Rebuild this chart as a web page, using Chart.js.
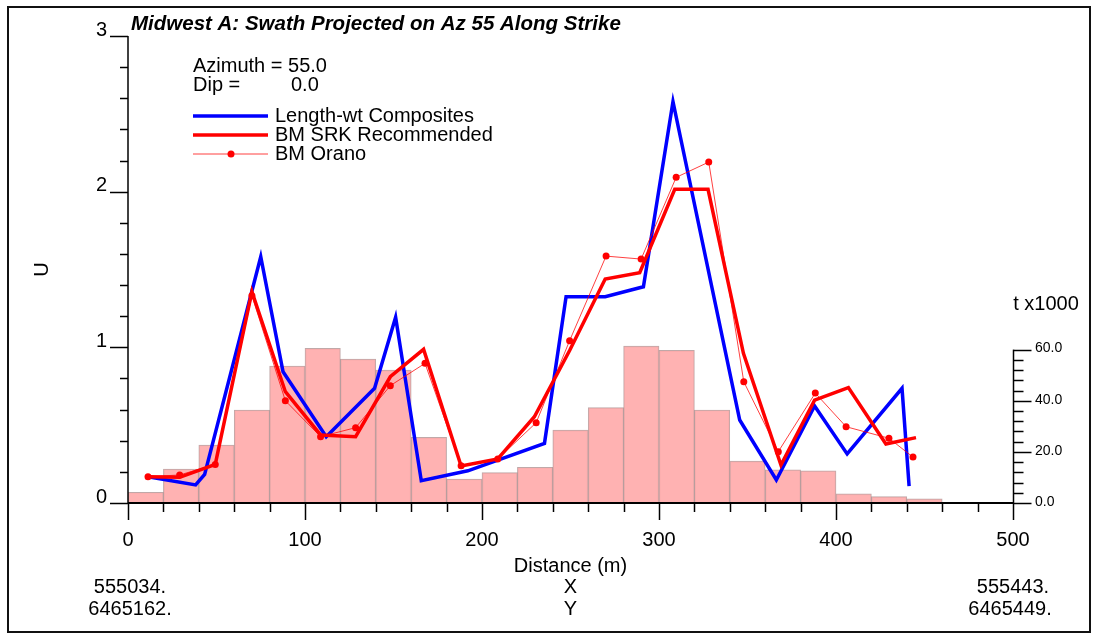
<!DOCTYPE html>
<html><head><meta charset="utf-8">
<script src="https://cdn.jsdelivr.net/npm/chart.js@4.4.1/dist/chart.umd.min.js"></script>
<style>html,body{margin:0;padding:0;background:#fff}#wrap{position:relative;width:1097px;height:639px}</style>
</head><body><div id="wrap"><canvas id="c"></canvas></div>
<script>
// ---- data ----
const titleText = 'Midwest A: Swath Projected on Az 55 Along Strike';
const binCenters = [10,30,50,70,90,110,130,150,170,190,210,230,250,270,290,310,330,350,370,390,410,430,450,470,490];
const tonnage    = [4.2,13.3,22.7,36.4,53.6,60.5,56.3,52.0,25.7,9.4,11.9,14.0,28.5,37.3,61.4,59.7,36.4,16.4,13.0,12.6,3.6,2.5,1.6,0,0];
const compX = [11.3,38.2,43.3,75.0,87.6,112.0,139.3,151.2,165.7,192.0,235.3,247.5,269.6,291.2,307.9,345.6,366.3,387.9,406.3,437.3,441.3];
const compU = [0.169,0.116,0.184,1.582,0.843,0.426,0.737,1.193,0.143,0.207,0.383,1.325,1.325,1.389,2.578,0.533,0.148,0.623,0.315,0.737,0.109];
const srkX = [11.3,29.2,49.3,70.0,88.9,108.8,128.6,148.2,167.0,188.2,208.9,229.6,249.5,269.6,289.1,308.9,327.7,347.7,368.9,387.9,407.0,428.2,445.2];
const srkU = [0.169,0.165,0.248,1.357,0.715,0.437,0.426,0.811,0.987,0.238,0.283,0.554,0.98,1.439,1.479,2.015,2.015,0.961,0.244,0.661,0.741,0.379,0.420];
const oranoX = [11.3,29.2,49.3,70.0,88.9,108.8,128.6,148.2,167.8,188.2,208.9,230.6,249.5,270.1,289.9,309.7,328.1,347.9,367.4,388.3,405.7,429.9,443.5];
const oranoU = [0.169,0.18,0.248,1.332,0.657,0.426,0.484,0.754,0.897,0.24,0.283,0.516,1.043,1.586,1.567,2.092,2.19,0.779,0.33,0.706,0.49,0.416,0.295];
const uTicks = [0,1,2,3];
const distTicks = [0,100,200,300,400,500];
const tTicks = [0,20,40,60];
const legendLabels = ['Length-wt Composites','BM SRK Recommended','BM Orano'];
const startXY = ['555034.','6465162.'];
const endXY = ['555443.','6465449.'];
const axisLetters = ['X','Y'];

const FF = '"Liberation Sans", Arial, Helvetica, sans-serif';
Chart.defaults.font.family = FF;
Chart.defaults.color = '#000';

const pts = (xs, ys) => xs.map((x,i)=>({x:x, y:ys[i]}));

const decor = {
  id:'decor',
  afterDraw(chart){
    const ctx = chart.ctx;
    const xs = chart.scales.x, ys = chart.scales.y, ts = chart.scales.y2;
    const L = xs.left, R = xs.right, B = ys.bottom, T = ys.top;
    ctx.save();
    ctx.strokeStyle = '#000';
    ctx.lineCap = 'butt';
    // left axis
    ctx.lineWidth = 1.5;
    ctx.beginPath(); ctx.moveTo(L, T); ctx.lineTo(L, B); ctx.stroke();
    for (let v = 0; v <= 3.0001; v += 0.2) {
      const y = Math.round(ys.getPixelForValue(v)) + 0.5;
      const major = Math.abs(v - Math.round(v)) < 1e-6;
      ctx.beginPath(); ctx.moveTo(L - (major ? 18 : 8), y); ctx.lineTo(L, y); ctx.stroke();
    }
    // bottom axis
    ctx.lineWidth = 2;
    ctx.beginPath(); ctx.moveTo(L, B); ctx.lineTo(R, B); ctx.stroke();
    ctx.lineWidth = 1.5;
    for (let v = 0; v <= 500; v += 20) {
      const x = Math.round(xs.getPixelForValue(v)) + 0.5;
      const major = v % 100 === 0;
      ctx.beginPath(); ctx.moveTo(x, B); ctx.lineTo(x, B + (major ? 17 : 9)); ctx.stroke();
    }
    // right tonnage axis (0..60)
    const tx = Math.round(R) + 0.5;
    ctx.beginPath(); ctx.moveTo(tx, B); ctx.lineTo(tx, ts.getPixelForValue(60)); ctx.stroke();
    for (let v = 0; v <= 60; v += 4) {
      const y = Math.round(ts.getPixelForValue(v)) + 0.5;
      const major = v % 20 === 0;
      ctx.beginPath(); ctx.moveTo(tx, y); ctx.lineTo(tx + (major ? 18 : 10), y); ctx.stroke();
    }
    // frame
    ctx.lineWidth = 2; ctx.strokeStyle = '#111';
    ctx.strokeRect(8, 7, 1082, 625);
    // texts
    ctx.fillStyle = '#000';
    ctx.textBaseline = 'middle';
    ctx.textAlign = 'left';
    ctx.font = 'italic bold 20.5px ' + FF;
    ctx.fillText(titleText, 131, 24);
    ctx.font = '20px ' + FF;
    ctx.fillText('Azimuth = 55.0', 193, 66);
    ctx.fillText('Dip =', 193, 85);
    ctx.fillText('0.0', 291, 85);
    const rows = [116, 135, 154];
    const ds = chart.data.datasets;
    [1,2,3].forEach((di, i) => {
      const d = ds[di];
      ctx.strokeStyle = d.borderColor; ctx.lineWidth = d.borderWidth;
      ctx.beginPath(); ctx.moveTo(193, rows[i]); ctx.lineTo(268, rows[i]); ctx.stroke();
      if (d.pointRadius > 0) {
        ctx.fillStyle = d.pointBackgroundColor;
        ctx.beginPath(); ctx.arc(231, rows[i], d.pointRadius, 0, Math.PI*2); ctx.fill();
      }
      ctx.fillStyle = '#000';
      ctx.fillText(legendLabels[i], 275, rows[i]);
    });
    ctx.textAlign = 'center';
    ctx.fillText(startXY[0], L + 2, 587);
    ctx.fillText(startXY[1], L + 2, 609);
    ctx.fillText(axisLetters[0], (L + R) / 2, 587);
    ctx.fillText(axisLetters[1], (L + R) / 2, 609);
    ctx.fillText(endXY[0], R, 587);
    ctx.fillText(endXY[1], R - 3, 609);
    ctx.fillText('t x1000', 1046, 304);
    ctx.restore();
  }
};

new Chart(document.getElementById('c'), {
  type: 'line',
  data: {
    datasets: [
      { type:'bar', label:'Tonnage', data: pts(binCenters, tonnage), yAxisID:'y2', xAxisID:'x',
        backgroundColor:'rgba(255,170,170,0.9)', borderColor:'rgba(150,110,110,0.6)', borderWidth:1,
        barPercentage:1, categoryPercentage:1, order:4 },
      { label: legendLabels[0], data: pts(compX, compU), borderColor:'#0000ff', borderWidth:3.5,
        pointRadius:0, tension:0, yAxisID:'y', order:3 },
      { label: legendLabels[1], data: pts(srkX, srkU), borderColor:'#ff0000', borderWidth:3.5,
        pointRadius:0, tension:0, yAxisID:'y', order:2 },
      { label: legendLabels[2], data: pts(oranoX, oranoU), borderColor:'rgba(255,0,0,0.75)', borderWidth:1,
        pointRadius:3.5, pointBackgroundColor:'#ff0000', pointBorderWidth:0, tension:0, yAxisID:'y', order:1 }
    ]
  },
  options: {
    responsive:true, maintainAspectRatio:false, animation:false,
    layout:{ padding:{ top:36, left:0, right:0, bottom:0 } },
    plugins:{ legend:{display:false}, tooltip:{enabled:false}, title:{display:false} },
    scales:{
      x:{ type:'linear', min:0, max:500, offset:false,
          grid:{display:false, drawTicks:false}, border:{display:false},
          ticks:{ stepSize:100, font:{size:20}, padding:25, maxRotation:0, color:'#000' },
          afterBuildTicks:(s)=>{ s.ticks = distTicks.map(v=>({value:v})); },
          title:{ display:true, text:'Distance (m)', font:{size:20}, padding:{top:0,bottom:61}, color:'#000' },
          afterFit:(s)=>{ s.height = 136; } },
      y:{ type:'linear', position:'left', min:0, max:3,
          grid:{display:false, drawTicks:false}, border:{display:false},
          ticks:{ font:{size:20}, padding:21, labelOffset:-6, color:'#000' },
          afterBuildTicks:(s)=>{ s.ticks = uTicks.map(v=>({value:v})); },
          title:{ display:true, text:'U', font:{size:20}, padding:{top:30,bottom:0}, color:'#000' },
          afterFit:(s)=>{ s.width = 128; } },
      y2:{ type:'linear', position:'right', min:0, max:182.7,
          grid:{display:false, drawTicks:false}, border:{display:false},
          ticks:{ font:{size:14}, padding:22, labelOffset:-1, color:'#000', callback:(v)=>Number(v).toFixed(1) },
          afterBuildTicks:(s)=>{ s.ticks = tTicks.map(v=>({value:v})); },
          afterFit:(s)=>{ s.width = 84; } }
    }
  },
  plugins:[decor]
});
</script></body></html>
